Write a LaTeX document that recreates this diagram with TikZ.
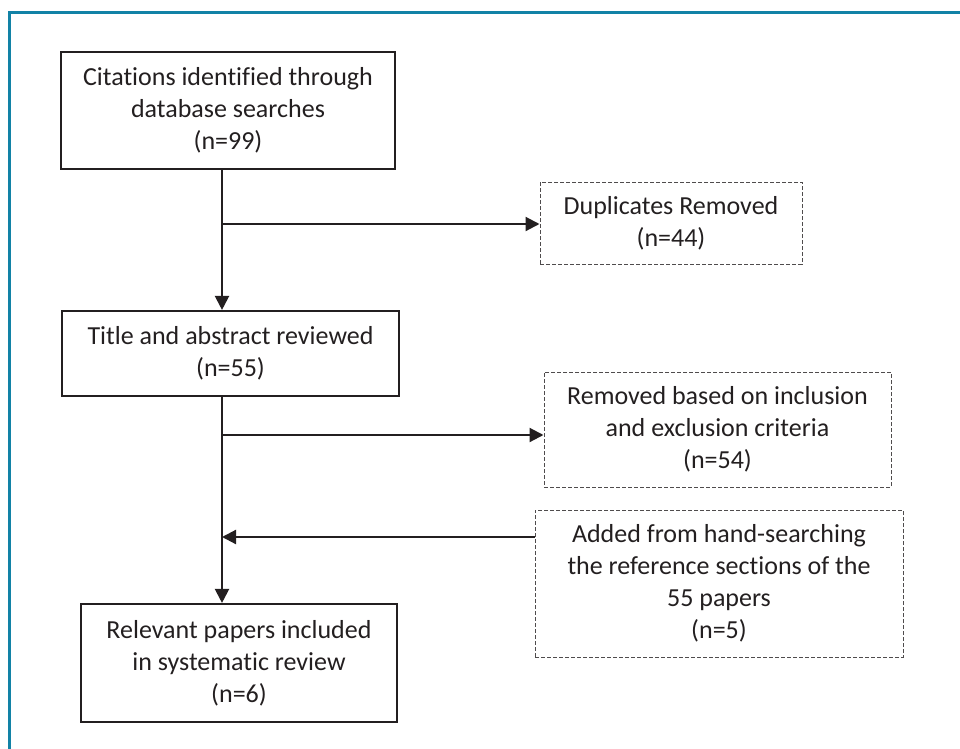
\documentclass[tikz,border=0pt]{standalone}
\usepackage{fontspec}
\setmainfont{Carlito}[Ligatures=NoCommon]
\usetikzlibrary{arrows.meta}
\definecolor{frameteal}{RGB}{18,130,166}
\definecolor{inkgray}{RGB}{35,31,32}
\begin{document}
\begin{tikzpicture}[x=0.75pt, y=-0.75pt,
    solidbox/.style={draw=inkgray, line width=1.6pt, align=center, inner sep=0pt,
        text=inkgray, font=\fontsize{19.5}{24}\selectfont},
    dashbox/.style={draw=inkgray!80, line width=0.75pt, dash pattern=on 3pt off 1.5pt,
        align=center, inner sep=0pt, text=inkgray, font=\fontsize{19.5}{24}\selectfont},
    flow/.style={draw=inkgray, line width=1.6pt, -{Triangle[length=10.5pt,width=10.5pt]}}]
    \useasboundingbox (0,0) rectangle (960,749);
    \draw[frameteal, line width=2.25pt] (9.5,749) -- (9.5,12.5) -- (960,12.5);

    \node[solidbox, minimum width=250.5pt, minimum height=87.75pt] (search) at (228,110.5)
        {Citations identified through\\database searches\\(n=99)};
    \node[dashbox, minimum width=196.5pt, minimum height=61.5pt] (dups) at (671,223)
        {Duplicates Removed\\(n=44)};
    \node[solidbox, minimum width=252.75pt, minimum height=63.75pt] (screen) at (230.5,353.5)
        {Title and abstract reviewed\\(n=55)};
    \node[dashbox, minimum width=260.25pt, minimum height=86.25pt] (removed) at (717.5,429.5)
        {Removed based on inclusion\\and exclusion criteria\\(n=54)};
    \node[dashbox, minimum width=276pt, minimum height=110.25pt] (added) at (719,583.5)
        {Added from hand-searching\\the reference sections of the\\55 papers\\(n=5)};
    \node[solidbox, minimum width=237pt, minimum height=88.5pt] (final) at (239,663)
        {Relevant papers included\\in systematic review\\(n=6)};

    \coordinate (spine) at (222,0);
    \coordinate (dupfork) at (222,224);
    \coordinate (remfork) at (222,435);
    \coordinate (addjoin) at (222,537);

    \draw[flow] (search.south -| spine) -- (screen.north -| spine);
    \draw[flow] (screen.south -| spine) -- (final.north -| spine);
    \draw[flow] (dupfork) -- (dupfork -| dups.west);
    \draw[flow] (remfork) -- (remfork -| removed.west);
    \draw[flow] (addjoin -| added.west) -- (addjoin);
\end{tikzpicture}
\end{document}
